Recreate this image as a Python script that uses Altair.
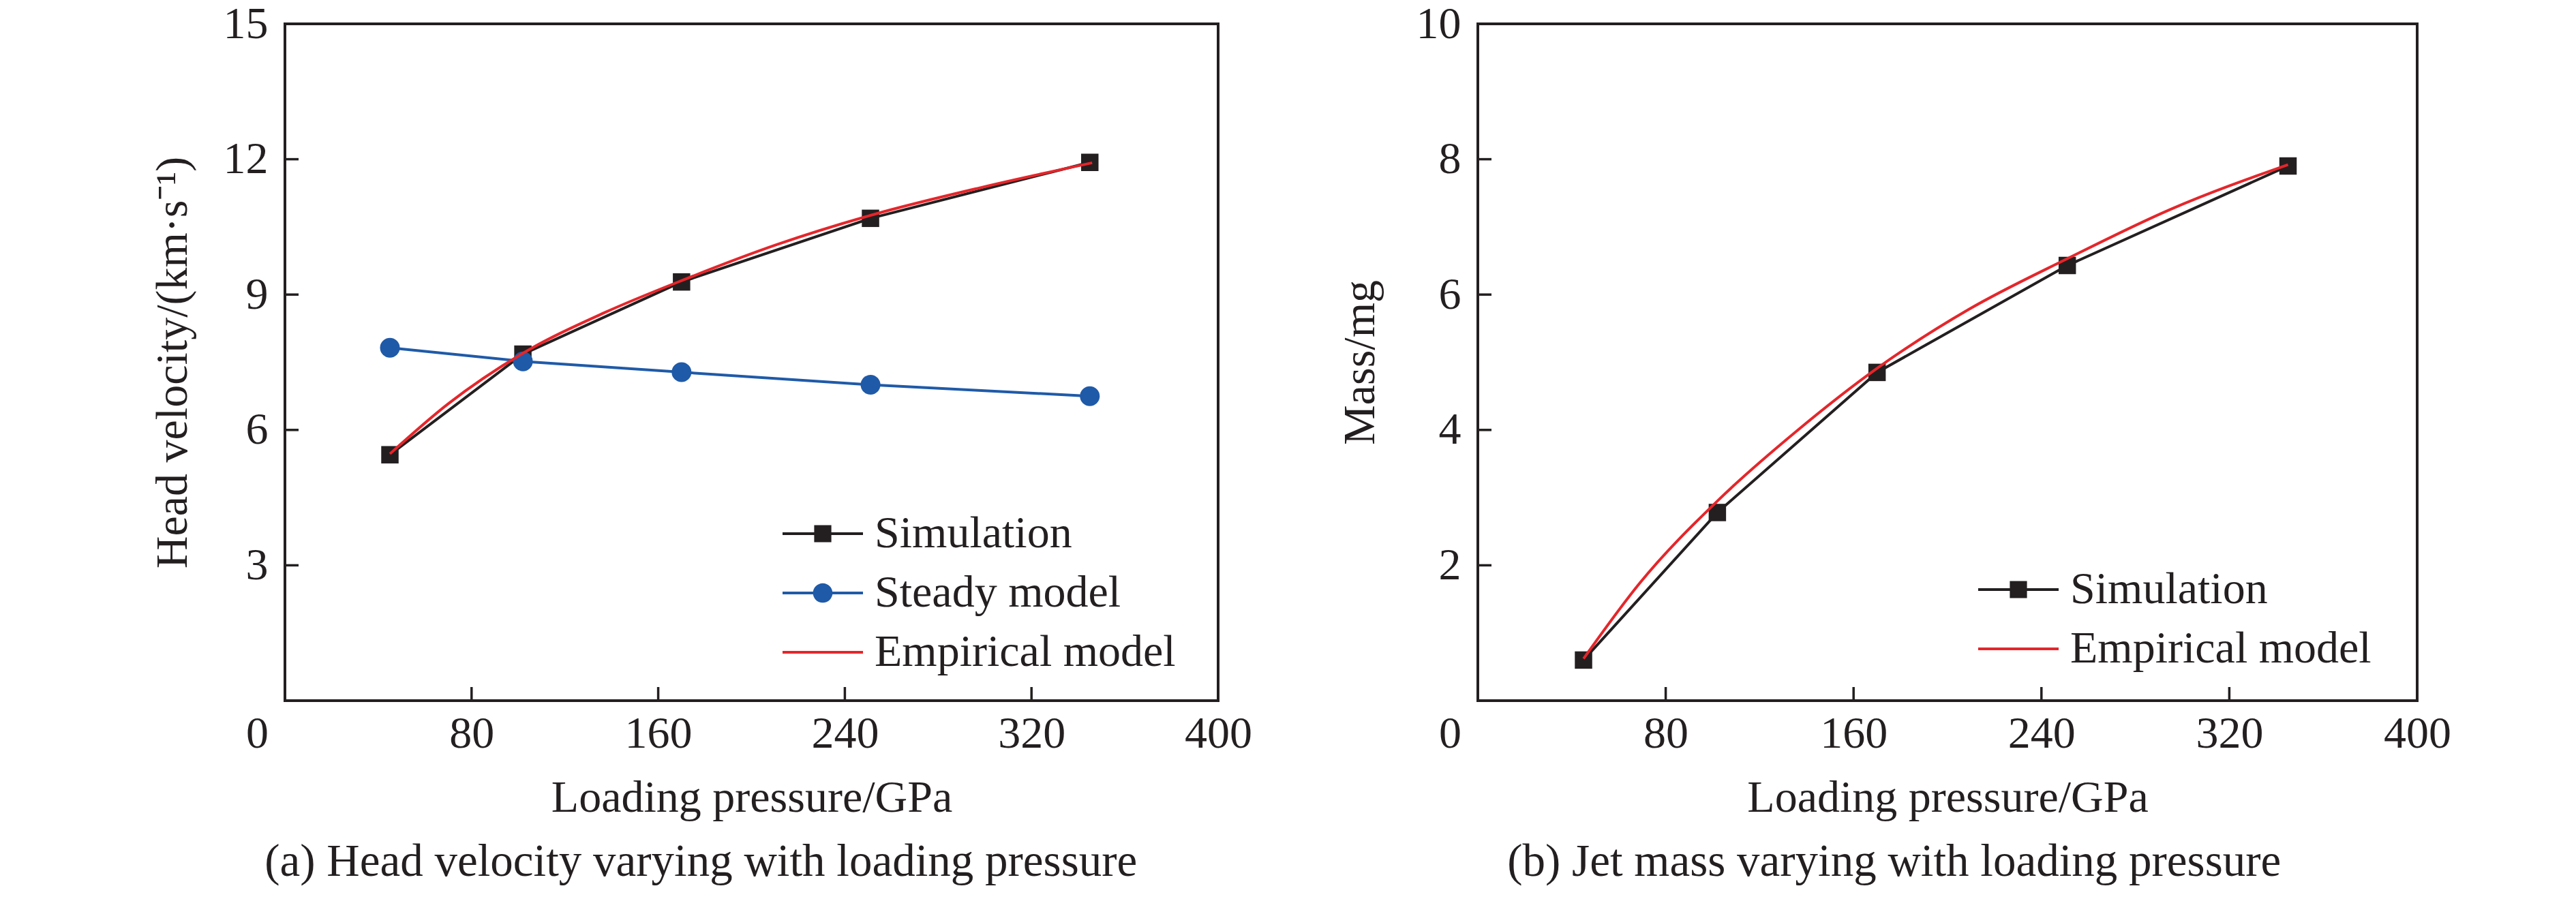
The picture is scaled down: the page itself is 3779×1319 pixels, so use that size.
import altair as alt
import pandas as pd

# ---------------- data ----------------
pressure = [45, 102, 170, 251, 345]
velocity_sim = [5.45, 7.68, 9.28, 10.69, 11.93]
velocity_steady = [7.82, 7.52, 7.28, 7.00, 6.75]
emp_v_pressure = [45, 70, 102, 137, 171, 211, 252, 299, 346]
emp_v = [5.47, 6.58, 7.70, 8.60, 9.33, 10.11, 10.77, 11.38, 11.92]

mass_sim = [0.60, 2.78, 4.85, 6.43, 7.90]
emp_m_pressure = [45, 69, 102, 136, 170, 209, 251, 295, 345]
emp_m = [0.62, 1.74, 2.95, 3.99, 4.91, 5.78, 6.53, 7.26, 7.92]

x_ticks = [0, 80, 160, 240, 320, 400]
v_ticks = [3, 6, 9, 12, 15]
m_ticks = [2, 4, 6, 8, 10]

names_a = ["Simulation", "Steady model", "Empirical model"]
names_b = ["Simulation", "Empirical model"]
x_title = "Loading pressure/GPa"
y_title_a = "Head velocity/(km·s⁻¹)"
y_title_b = "Mass/mg"
caption_a = "(a) Head velocity varying with loading pressure"
caption_b = "(b) Jet mass varying with loading pressure"

# ---------------- styling ----------------
FONT = "Liberation Serif"
BLACK = "#231f20"
BLUE = "#1f5aa8"
RED = "#e5262b"
FS = 66
LW = 4

# legend symbols: line + marker as custom paths (unit = 35 px)
P_SIM = "M-1.686,-0.055H1.686V0.055H-1.686Z M-0.36,-0.36H0.36V0.36H-0.36Z"
P_STEADY = ("M-1.686,-0.055H1.686V0.055H-1.686Z "
            "M-0.41,0A0.41,0.41 0 1,1 0.41,0A0.41,0.41 0 1,1 -0.41,0Z")
P_EMP = "M-1.686,-0.055H1.686V0.055H-1.686Z"


def panel(W, H, ymax, yticks, ytitle, ytitlepad, sims, steady, emp_x, emp_y,
          names, colors, paths, lx, ly, caption):
    xs = alt.Scale(domain=[0, 400], nice=False, zero=False)
    ys = alt.Scale(domain=[0, ymax], nice=False, zero=False)
    xaxis = alt.Axis(values=x_ticks, title=x_title, ticks=False, domain=False,
                     grid=False, labelFlush=False, labelOverlap=False,
                     labelPadding=16, titlePadding=29, format="d",
                     labelOffset={"condition": {"test": "datum.value === 0", "value": -41},
                                  "value": 0})
    yaxis = alt.Axis(values=yticks, title=ytitle, ticks=False, domain=False,
                     grid=False, labelOverlap=False, labelPadding=25,
                     titlePadding=ytitlepad, format="d")

    layers = []
    sim_df = pd.DataFrame({"p": pressure, "y": sims})
    layers.append(alt.Chart(sim_df).mark_line(color=BLACK, strokeWidth=LW).encode(
        x=alt.X("p:Q", scale=xs, axis=xaxis), y=alt.Y("y:Q", scale=ys, axis=yaxis)))
    layers.append(alt.Chart(sim_df).mark_point(shape="square", filled=True, size=650,
                                               color=BLACK, opacity=1).encode(
        x=alt.X("p:Q", scale=xs), y=alt.Y("y:Q", scale=ys)))
    if steady is not None:
        st_df = pd.DataFrame({"p": pressure, "y": steady})
        layers.append(alt.Chart(st_df).mark_line(color=BLUE, strokeWidth=LW).encode(
            x=alt.X("p:Q", scale=xs), y=alt.Y("y:Q", scale=ys)))
        layers.append(alt.Chart(st_df).mark_point(shape="circle", filled=True, size=841,
                                                  color=BLUE, opacity=1).encode(
            x=alt.X("p:Q", scale=xs), y=alt.Y("y:Q", scale=ys)))
    emp_df = pd.DataFrame({"p": emp_x, "y": emp_y})
    layers.append(alt.Chart(emp_df).mark_line(color=RED, strokeWidth=LW,
                                              interpolate="monotone").encode(
        x=alt.X("p:Q", scale=xs), y=alt.Y("y:Q", scale=ys)))
    # inward tick marks
    xt_df = pd.DataFrame({"p": x_ticks[1:-1]})
    layers.append(alt.Chart(xt_df).mark_rule(color=BLACK, strokeWidth=3.5).encode(
        x=alt.X("p:Q", scale=xs), y=alt.value(H), y2=alt.value(H - 20)))
    yt_df = pd.DataFrame({"y": yticks[:-1]})
    layers.append(alt.Chart(yt_df).mark_rule(color=BLACK, strokeWidth=3.5).encode(
        y=alt.Y("y:Q", scale=ys), x=alt.value(0), x2=alt.value(20)))
    # legend
    leg = alt.Legend(title=None, orient="none", legendX=lx, legendY=ly,
                     symbolSize=4900, symbolStrokeWidth=0, symbolOpacity=1,
                     labelFont=FONT, labelFontSize=FS, labelColor=BLACK,
                     labelOffset=41, rowPadding=19, padding=0, labelLimit=0)
    leg_df = pd.DataFrame({"s": names})
    layers.append(alt.Chart(leg_df).transform_filter("false").mark_point(
        filled=True, size=4900, opacity=1).encode(
        color=alt.Color("s:N", scale=alt.Scale(domain=names, range=colors), legend=leg),
        shape=alt.Shape("s:N", scale=alt.Scale(domain=names, range=paths), legend=leg)))

    return alt.layer(*layers).properties(
        width=W, height=H,
        title=alt.TitleParams(caption, orient="bottom", anchor="middle", frame="bounds",
                              font=FONT, fontSize=67, fontWeight="normal",
                              color=BLACK, offset=29))


left = panel(1369, 993, 15, v_ticks, y_title_a, 40, velocity_sim, velocity_steady,
             emp_v_pressure, emp_v, names_a, [BLACK, BLUE, RED],
             [P_SIM, P_STEADY, P_EMP], 754, 713, caption_a)
right = panel(1378, 993, 10, m_ticks, y_title_b, 48, mass_sim, None,
              emp_m_pressure, emp_m, names_b, [BLACK, RED],
              [P_SIM, P_EMP], 758, 795, caption_b)

chart = alt.hconcat(left, right, spacing=381, bounds="flush").resolve_scale(
    color="independent", shape="independent").properties(
    padding={"left": 210, "top": -8, "right": 5, "bottom": 0},
    background="white",
).configure_view(stroke=BLACK, strokeWidth=4).configure_axis(
    labelFont=FONT, titleFont=FONT, labelFontSize=FS, titleFontSize=FS,
    labelColor=BLACK, titleColor=BLACK, titleFontWeight="normal")

chart.save("out.html", embed_options={"renderer": "svg", "actions": False})
